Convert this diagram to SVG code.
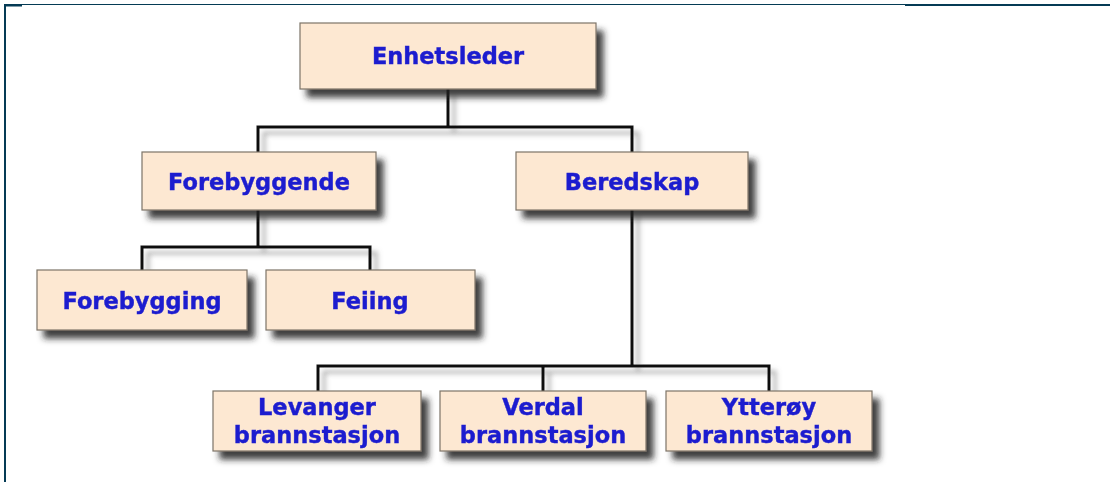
<svg xmlns="http://www.w3.org/2000/svg" width="1111" height="482" viewBox="0 0 1111 482">
<defs>
<filter id="sh" x="-10%" y="-20%" width="130%" height="160%">
<feGaussianBlur in="SourceAlpha" stdDeviation="3"/>
<feOffset dx="7" dy="8" result="b"/>
<feFlood flood-color="#222" flood-opacity="0.85"/>
<feComposite in2="b" operator="in"/>
<feMerge><feMergeNode/><feMergeNode in="SourceGraphic"/></feMerge>
</filter>
<filter id="lsh" x="-10%" y="-50%" width="130%" height="300%">
<feGaussianBlur in="SourceAlpha" stdDeviation="2.5"/>
<feOffset dx="6" dy="6" result="b"/>
<feFlood flood-color="#666" flood-opacity="0.55"/>
<feComposite in2="b" operator="in"/>
<feMerge><feMergeNode/><feMergeNode in="SourceGraphic"/></feMerge>
</filter>
</defs>
<style>
.box{fill:#fde8d2;stroke:#7d7468;stroke-width:1.2}
.t{font-family:"DejaVu Sans",Verdana,sans-serif;font-weight:bold;font-size:22.5px;fill:#1c1ccf;stroke:#1c1ccf;stroke-width:0.4;text-anchor:middle}
.c{fill:none;stroke:#111;stroke-width:3}
.fr{stroke:#053b55;fill:none}
</style>
<rect width="1111" height="482" fill="#fff"/>
<g id="frame">
<line class="fr" x1="5" y1="4.5" x2="905" y2="4.5" stroke-width="1"/>
<line class="fr" x1="905" y1="5" x2="1110" y2="5" stroke-width="2"/>
<line class="fr" x1="5" y1="5.5" x2="22" y2="5.5" stroke-width="2"/>
<line class="fr" x1="5" y1="4" x2="5" y2="482" stroke-width="2"/>
</g>
<g id="connectors" filter="url(#lsh)">
<path class="c" d="M448 89V127M258 152V127H632V152"/>
<path class="c" d="M258 210V247M142 270V247H370V270"/>
<path class="c" d="M632 210V366M318 391V366H769V391M543 366V391"/>
</g>
<g id="enhetsleder" filter="url(#sh)"><rect class="box" x="300" y="23" width="296" height="66"/><text class="t" x="448" y="64">Enhetsleder</text></g>
<g id="forebyggende" filter="url(#sh)"><rect class="box" x="142" y="152" width="234" height="58"/><text class="t" x="259" y="190">Forebyggende</text></g>
<g id="beredskap" filter="url(#sh)"><rect class="box" x="516" y="152" width="232" height="58"/><text class="t" x="632" y="190">Beredskap</text></g>
<g id="forebygging" filter="url(#sh)"><rect class="box" x="37" y="270" width="210" height="60"/><text class="t" x="142" y="309">Forebygging</text></g>
<g id="feiing" filter="url(#sh)"><rect class="box" x="266" y="270" width="209" height="60"/><text class="t" x="370" y="309">Feiing</text></g>
<g id="levanger" filter="url(#sh)"><rect class="box" x="213" y="391" width="208" height="60"/><text class="t" x="317" y="415">Levanger</text><text class="t" x="317" y="443">brannstasjon</text></g>
<g id="verdal" filter="url(#sh)"><rect class="box" x="440" y="391" width="206" height="60"/><text class="t" x="543" y="415">Verdal</text><text class="t" x="543" y="443">brannstasjon</text></g>
<g id="ytteroy" filter="url(#sh)"><rect class="box" x="666" y="391" width="206" height="60"/><text class="t" x="769" y="415">Ytterøy</text><text class="t" x="769" y="443">brannstasjon</text></g>
</svg>
